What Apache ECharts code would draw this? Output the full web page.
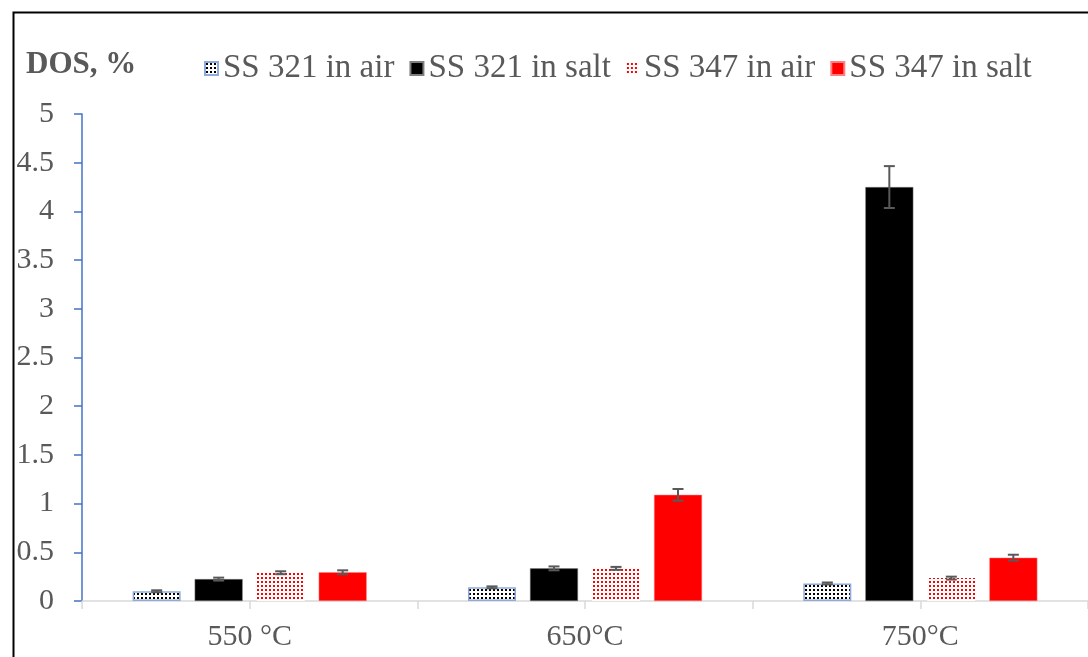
<!DOCTYPE html>
<html>
<head>
<meta charset="utf-8">
<script src="https://cdn.jsdelivr.net/npm/echarts@6/dist/echarts.min.js"></script>
<style>
  html, body { margin: 0; padding: 0; background: #fff; }
  #chart { width: 1088px; height: 657px; }
</style>
</head>
<body>
<div id="chart"></div>
<script>
const categories = ['550 °C', '650°C', '750°C'];
const seriesNames = ['SS 321 in air', 'SS 321 in salt', 'SS 347 in air', 'SS 347 in salt'];

const ss321Air = [0.10, 0.14, 0.18];
const ss321AirErr = [0.01, 0.01, 0.01];
const ss321Salt = [0.225, 0.335, 4.25];
const ss321SaltErr = [0.015, 0.02, 0.215];
const ss347Air = [0.29, 0.335, 0.235];
const ss347AirErr = [0.015, 0.015, 0.015];
const ss347Salt = [0.295, 1.09, 0.445];
const ss347SaltErr = [0.02, 0.06, 0.03];

const yTicks = { min: 0, max: 5, interval: 0.5 };

const font = 'Liberation Serif';
const textColor = '#595959';

// dotted fill like the Excel pattern
function dots(color) {
  const c = document.createElement('canvas');
  c.width = 4; c.height = 4;
  const ctx = c.getContext('2d');
  ctx.fillStyle = '#fff';
  ctx.fillRect(0, 0, 4, 4);
  ctx.fillStyle = color;
  ctx.fillRect(1, 1, 2, 2);
  return { image: c, repeat: 'repeat' };
}

const barW = 48, barStep = 62;

const values = [ss321Air, ss321Salt, ss347Air, ss347Salt];
const errs = [ss321AirErr, ss321SaltErr, ss347AirErr, ss347SaltErr];
const styles = [
  { color: dots('#000'), borderColor: '#8FAADC', borderWidth: 1.5 },
  { color: '#000', borderColor: '#7f7f7f', borderWidth: 0.5 },
  { color: dots('#FF0000'), borderColor: '#fff', borderWidth: 0 },
  { color: '#FF0000', borderColor: '#ff8080', borderWidth: 0.5 }
];

const errData = [];
values.forEach((vals, s) => {
  vals.forEach((v, i) => errData.push([i, v, errs[s][i], s]));
});

const chart = echarts.init(document.getElementById('chart'));

const series = seriesNames.map((name, s) => ({
  name: name,
  type: 'bar',
  barWidth: barW,
  barGap: ((barStep - barW) / barW * 100).toFixed(1) + '%',
  data: values[s],
  itemStyle: styles[s],
  emphasis: { disabled: true }
}));

series.push({
  type: 'custom',
  name: 'err',
  xAxisIndex: 0,
  data: errData,
  z: 10,
  renderItem: function (params, api) {
    const cat = api.value(0), v = api.value(1), e = api.value(2), s = api.value(3);
    const off = (s - 1.5) * barStep;
    const hi = api.coord([cat, v + e]);
    const lo = api.coord([cat, v - e]);
    const x = hi[0] + off;
    const cap = 5.5;
    const st = { stroke: '#595959', lineWidth: 2 };
    return {
      type: 'group',
      children: [
        { type: 'line', shape: { x1: x, y1: hi[1], x2: x, y2: lo[1] }, style: st },
        { type: 'line', shape: { x1: x - cap, y1: hi[1], x2: x + cap, y2: hi[1] }, style: st },
        { type: 'line', shape: { x1: x - cap, y1: lo[1], x2: x + cap, y2: lo[1] }, style: st }
      ]
    };
  }
});

chart.setOption({
  animation: false,
  backgroundColor: '#fff',
  title: {
    text: 'DOS, %',
    left: 21,
    top: 44,
    textStyle: { fontFamily: font, fontSize: 31, fontWeight: 'bold', color: textColor }
  },
  legend: {
    data: seriesNames,
    left: 199,
    top: 47,
    icon: 'rect',
    itemWidth: 13,
    itemHeight: 13,
    itemGap: 15,
    textStyle: { fontFamily: font, fontSize: 33, color: textColor, padding: [0, 0, 0, 0] }
  },
  graphic: [{
    type: 'rect',
    left: 11,
    top: 10,
    shape: { width: 1100, height: 700 },
    style: { fill: 'none', stroke: '#000', lineWidth: 2 },
    silent: true
  }],
  grid: { left: 82, right: -2, top: 114, bottom: 56, containLabel: false },
  xAxis: [{
    type: 'category',
    data: categories,
    axisLine: { lineStyle: { color: '#D9D9D9', width: 1.5 } },
    axisTick: { show: true, length: 8, lineStyle: { color: '#D9D9D9', width: 1.5 } },
    axisLabel: { fontFamily: font, fontSize: 30, color: textColor, margin: 21 }
  }, {
    type: 'category',
    data: categories,
    position: 'bottom',
    axisLine: { show: false },
    axisTick: { show: true, alignWithLabel: true, length: 8, lineStyle: { color: '#D9D9D9', width: 1.5 } },
    axisLabel: { show: false }
  }],
  yAxis: {
    type: 'value',
    min: yTicks.min,
    max: yTicks.max,
    interval: yTicks.interval,
    axisLine: { show: true, lineStyle: { color: '#4472C4', width: 1.5 } },
    axisTick: { show: true, length: 8, lineStyle: { color: '#4472C4', width: 1.5 } },
    splitLine: { show: false },
    axisLabel: { fontFamily: font, fontSize: 30, color: textColor, margin: 28 }
  },
  series: series
});
</script>
</body>
</html>
